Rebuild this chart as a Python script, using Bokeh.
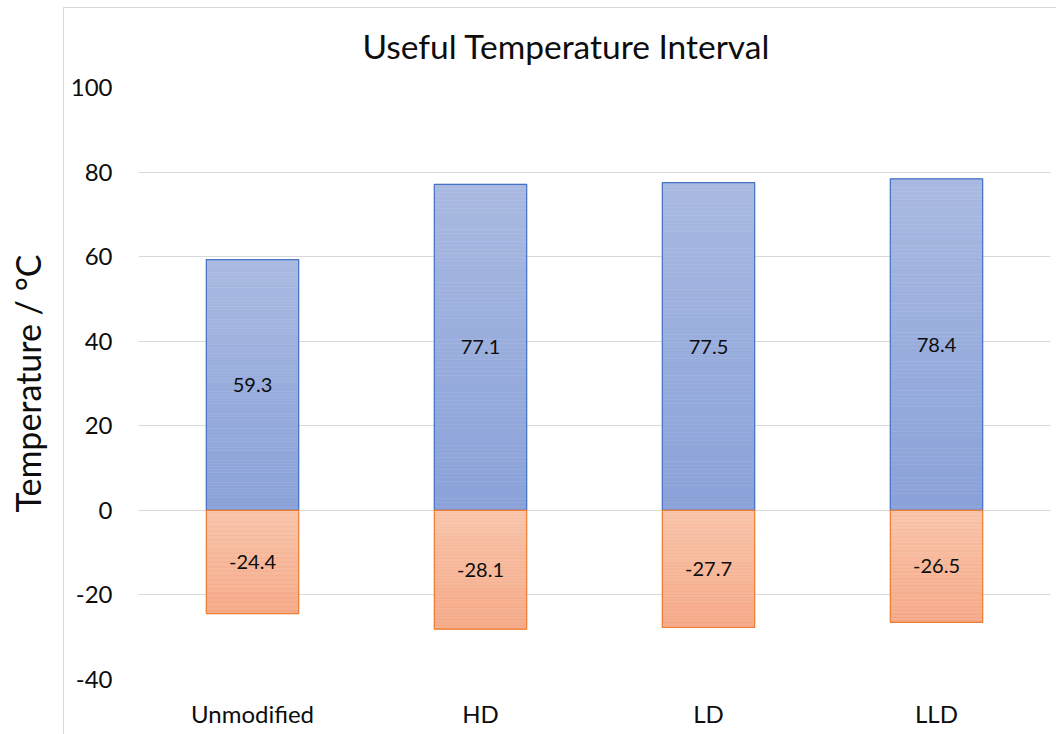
from bokeh.plotting import figure
from bokeh.models import FactorRange, FixedTicker, ColumnDataSource, InlineStyleSheet
from bokeh.core.properties import value
from bokeh.embed import file_html
from bokeh.resources import INLINE

categories = ["Unmodified", "HD", "LD", "LLD"]
upper = [59.3, 77.1, 77.5, 78.4]
lower = [-24.4, -28.1, -27.7, -26.5]
y_ticks = [-40, -20, 0, 20, 40, 60, 80, 100]
title_text = "Useful Temperature Interval"
y_label = "Temperature / °C"

FONT = "Lato"
BLUE_TOP = (169, 185, 225)
BLUE_BOT = (138, 162, 217)
ORANGE_TOP = (248, 195, 168)
ORANGE_BOT = (245, 168, 134)

def mix(c1, c2, t):
    return "#%02x%02x%02x" % tuple(int(round(a + (b - a) * t)) for a, b in zip(c1, c2))

p = figure(width=1056, height=734, x_range=FactorRange(*categories, range_padding=0),
           y_range=(-40, 100), output_backend="svg", toolbar_location=None,
           min_border_left=138, min_border_right=6, min_border_top=87, min_border_bottom=55)
p.outline_line_color = None
p.background_fill_color = "white"
p.border_fill_color = "white"

# gradient slices derived from data
N = 80
xs, tops, bots, cols = [], [], [], []
for cat, v in zip(categories, upper):
    for i in range(N):
        xs.append(cat); bots.append(v * i / N); tops.append(v * (i + 1) / N)
        cols.append(mix(BLUE_BOT, BLUE_TOP, (i + 0.5) / N))
for cat, v in zip(categories, lower):
    for i in range(N):
        xs.append(cat); tops.append(v * i / N); bots.append(v * (i + 1) / N)
        cols.append(mix(ORANGE_TOP, ORANGE_BOT, (i + 0.5) / N))
src = ColumnDataSource(dict(x=xs, top=tops, bottom=bots, color=cols))
p.vbar(x="x", top="top", bottom="bottom", width=0.405, source=src,
       fill_color="color", line_color="color", line_width=0.5)

p.vbar(x=categories, top=upper, bottom=0, width=0.405, fill_alpha=0,
       line_color="#4472c4", line_width=1.2)
p.vbar(x=categories, top=0, bottom=lower, width=0.405, fill_alpha=0,
       line_color="#ed7d31", line_width=1.2)

p.text(x=categories, y=[v / 2 for v in upper], text=["%.1f" % v for v in upper],
       text_align="center", text_baseline="middle", text_font=value(FONT),
       text_font_size="20px", text_color="#0d0d0d")
p.text(x=categories, y=[v / 2 for v in lower], text=["%.1f" % v for v in lower],
       text_align="center", text_baseline="middle", text_font=value(FONT),
       text_font_size="20px", text_color="#0d0d0d")

# title
p.title.text = title_text
p.title.align = "left"
p.title.offset = 224
p.title.standoff = 44
p.title.text_font = FONT
p.title.text_font_size = "33.5px"
p.title.text_font_style = "normal"
p.title.text_color = "#0d0d0d"

# axes
p.yaxis.ticker = FixedTicker(ticks=y_ticks)
p.yaxis.major_label_overrides = {t: str(t) for t in y_ticks}
p.yaxis.axis_line_color = None
p.yaxis.major_tick_line_color = None
p.yaxis.minor_tick_line_color = None
p.yaxis.major_label_standoff = 20
p.yaxis.major_label_text_font = FONT
p.yaxis.major_label_text_font_size = "24px"
p.yaxis.major_label_text_color = "#0d0d0d"
p.yaxis.axis_label = y_label
p.yaxis.axis_label_text_font = FONT
p.yaxis.axis_label_text_font_size = "34px"
p.yaxis.axis_label_text_font_style = "normal"
p.yaxis.axis_label_text_color = "#0d0d0d"
p.yaxis.axis_label_standoff = 20

p.xaxis.axis_line_color = None
p.xaxis.major_tick_line_color = None
p.xaxis.minor_tick_line_color = None
p.xaxis.major_label_standoff = 13
p.xaxis.major_label_text_font = FONT
p.xaxis.major_label_text_font_size = "24px"
p.xaxis.major_label_text_color = "#0d0d0d"

p.xgrid.grid_line_color = None
p.ygrid.grid_line_color = "#d9d9d9"
p.ygrid.grid_line_width = 1

# chart-area border (left and top edges), drawn as a CSS overlay
css = (":host { position: relative; } "
       ":host::after { content: ''; position: absolute; left: 63px; top: 7px; "
       "right: 0; bottom: 0; border-left: 1px solid #d9d9d9; "
       "border-top: 1px solid #d9d9d9; pointer-events: none; }")
p.stylesheets = [InlineStyleSheet(css=css)]

open("out.html", "w").write(file_html(p, INLINE))
